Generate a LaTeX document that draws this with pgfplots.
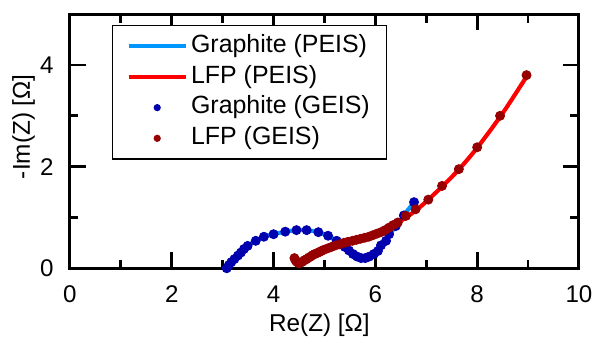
\documentclass[border=0pt]{standalone}
\usepackage{pgfplots}
\pgfplotsset{compat=1.18}
\usepackage{fontspec}
\setmainfont{Liberation Sans}
\definecolor{gpeis}{RGB}{0,150,255}
\definecolor{lpeis}{RGB}{255,0,0}
\definecolor{ggeis}{RGB}{0,0,175}
\definecolor{lgeis}{RGB}{150,0,0}
\begin{document}
\begin{tikzpicture}
\begin{axis}[
  scale only axis,
  width=257.2pt, height=128.4pt,
  xmin=0, xmax=10, ymin=0, ymax=5,
  xtick={0,2,4,6,8,10},
  ytick={0,2,4},
  minor xtick={1,3,5,7,9},
  minor ytick={1,3,5},
  tick align=inside,
  major tick length=8pt,
  minor tick length=4.3pt,
  axis line style={line width=1.5pt},
  every tick/.style={line width=1.4pt, black},
  /pgf/number format/assume math mode=true,
  tick label style={font=\fontsize{12.2pt}{14pt}\selectfont},
  xticklabel style={yshift=-5.5pt},
  yticklabel style={xshift=-4.8pt},
  xlabel={Re(Z) [Ω]},
  ylabel={-Im(Z) [Ω]},
  label style={font=\fontsize{12.3pt}{14pt}\selectfont},
  xlabel style={at={(axis description cs:0.49,-0.226)}, anchor=center},
  ylabel style={at={(axis description cs:-0.091,0.557)}, anchor=center, rotate=0},
  legend style={at={(axis description cs:0.082,0.958)}, anchor=north west,
    draw=black, line width=0.8pt, font=\fontsize{12.6pt}{14pt}\selectfont,
    inner xsep=7pt, inner ysep=2.7pt,
    nodes={inner sep=1.5pt, text height=9.3pt, text depth=3.2pt},
    cells={anchor=west},
    /tikz/every even column/.append style={column sep=1pt}},
  legend cell align=left,
]
\addplot[color=gpeis, line width=2.1pt, smooth, tension=0.4,
  legend image code/.code={\draw[line width=2.2pt] (0pt,0pt) -- (29pt,0pt);}]
  coordinates {
  (3.08,0.00) (3.14,0.08) (3.23,0.18) (3.36,0.31) (3.49,0.44) (3.65,0.54)
  (3.81,0.62) (4.00,0.67) (4.23,0.72) (4.45,0.75) (4.65,0.75) (4.88,0.71)
  (5.07,0.64) (5.24,0.54) (5.40,0.42) (5.56,0.28) (5.72,0.20) (5.88,0.23)
  (6.05,0.36) (6.20,0.56) (6.35,0.76) (6.50,0.96) (6.62,1.12) (6.76,1.30)
  };
\addlegendentry{Graphite (PEIS)}
\addplot[color=lpeis, line width=2.1pt, smooth, tension=0.5,
  legend image code/.code={\draw[line width=2.2pt] (0pt,0pt) -- (29pt,0pt);}]
  coordinates {
  (4.47,0.12) (4.80,0.28) (5.20,0.44) (5.60,0.55) (6.00,0.66) (6.40,0.87)
  (6.80,1.14) (7.20,1.50) (7.60,1.90) (8.00,2.37) (8.50,3.05) (8.95,3.74)
  };
\addlegendentry{LFP (PEIS)}
\addplot[only marks, mark=*, mark size=2.3pt, color=ggeis,
  legend image code/.code={\fill (14.5pt,0pt) circle (1.4pt);}]
  coordinates {
  (3.08,0.00) (3.12,0.06) (3.17,0.12) (3.23,0.18) (3.30,0.25) (3.36,0.31)
  (3.42,0.38) (3.49,0.44) (3.65,0.54) (3.81,0.62) (4.00,0.67) (4.23,0.72)
  (4.45,0.75) (4.65,0.75) (4.88,0.71) (5.07,0.64) (5.24,0.54) (5.40,0.42)
  (5.48,0.35) (5.56,0.28) (5.64,0.23) (5.72,0.20) (5.80,0.20) (5.88,0.23)
  (5.97,0.28) (6.05,0.34) (6.11,0.45) (6.21,0.54) (6.27,0.67) (6.40,0.83)
  (6.56,1.04) (6.76,1.30)
  };
\addlegendentry{Graphite (GEIS)}
\addplot[only marks, mark=*, mark size=2.3pt, color=lgeis,
  legend image code/.code={\fill (14.5pt,0pt) circle (1.4pt);}]
  coordinates {
  (4.41,0.20) (4.43,0.16) (4.45,0.13) (4.49,0.10) (4.53,0.11) (4.57,0.13)
  (4.61,0.16) (4.65,0.18) (4.69,0.21) (4.73,0.23) (4.77,0.26) (4.81,0.28)
  (4.86,0.30) (4.90,0.32) (4.94,0.34) (4.98,0.36) (5.06,0.39) (5.14,0.42)
  (5.22,0.45) (5.30,0.47) (5.38,0.50) (5.46,0.52) (5.55,0.54) (5.63,0.56)
  (5.71,0.58) (5.79,0.60) (5.87,0.62) (5.95,0.65) (6.03,0.68) (6.11,0.71)
  (6.19,0.75) (6.27,0.80) (6.35,0.85) (6.44,0.90) (6.60,1.03) (6.79,1.16)
  (7.04,1.35) (7.31,1.62) (7.64,1.95) (8.00,2.38) (8.45,3.00) (8.97,3.80)
  };
\addlegendentry{LFP (GEIS)}
\end{axis}
\path ([shift={(-35.35pt,-35.5pt)}]current axis.south west) rectangle ([shift={(7pt,7.15pt)}]current axis.north east);
\end{tikzpicture}
\end{document}
